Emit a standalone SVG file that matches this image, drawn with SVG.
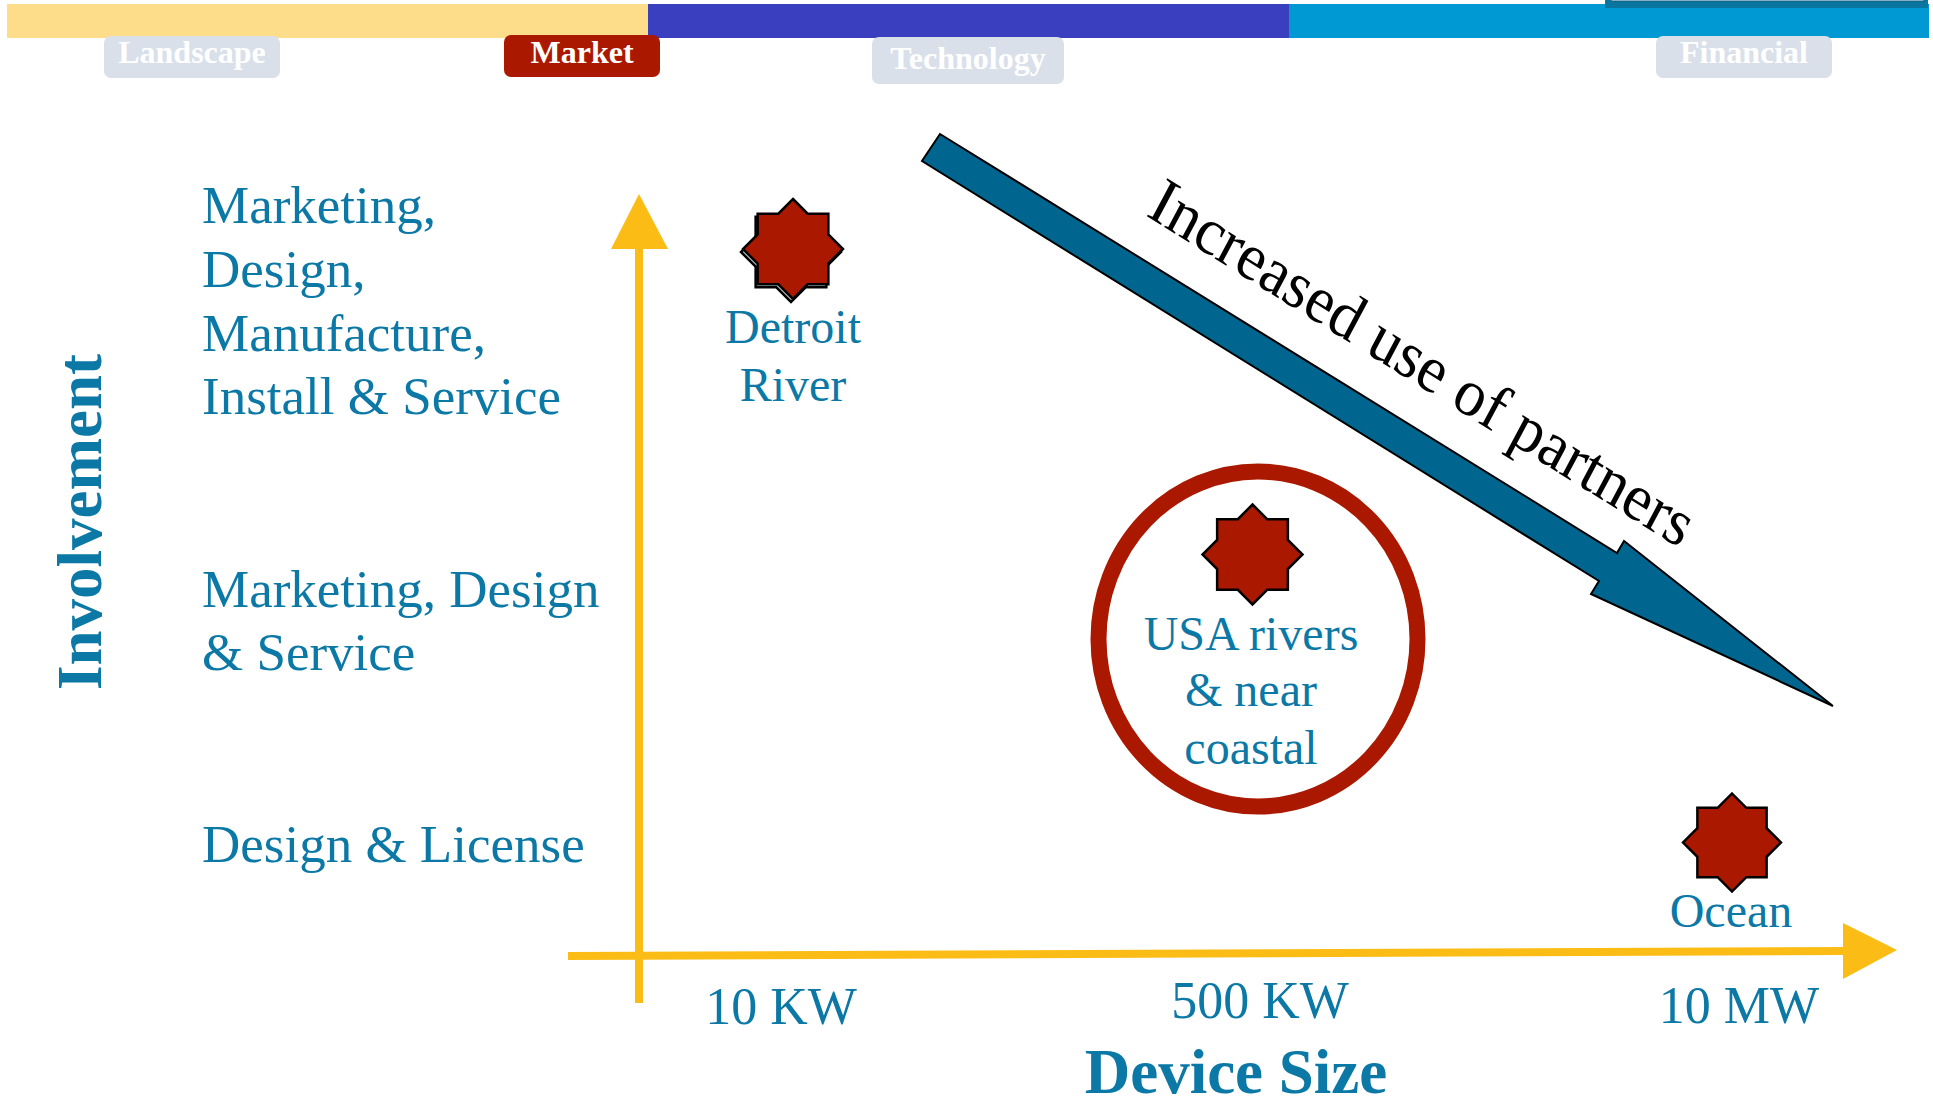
<svg xmlns="http://www.w3.org/2000/svg" xmlns:xlink="http://www.w3.org/1999/xlink" width="1933" height="1105" viewBox="0 0 1933 1105">
  <style>
    .tab-text { font-family: "Liberation Serif", "Times New Roman", serif; font-weight: bold; font-size: 32px; fill: #ffffff; text-anchor: middle; }
    .lbl { font-family: "Liberation Serif", "Times New Roman", serif; font-size: 53px; fill: #0b78a6; }
    .site { font-family: "Liberation Serif", "Times New Roman", serif; font-size: 48px; fill: #0b78a6; text-anchor: middle; }
    .tick { font-family: "Liberation Serif", "Times New Roman", serif; font-size: 52px; fill: #0b78a6; text-anchor: middle; }
    .axis-title { font-family: "Liberation Serif", "Times New Roman", serif; font-weight: bold; font-size: 63px; fill: #0b78a6; }
    .axis { stroke: #fbbc15; stroke-width: 8; fill: none; }
    .axis-head { fill: #fbbc15; }
    .star { fill: #aa1800; stroke: #000000; stroke-width: 2.5; stroke-linejoin: miter; }
  </style>
  <defs>
    <!-- eight-point star (two overlapping squares), radius 50 -->
    <polygon id="star8" points="0,-50 14.64,-35.36 35.36,-35.36 35.36,-14.64 50,0 35.36,14.64 35.36,35.36 14.64,35.36 0,50 -14.64,35.36 -35.36,35.36 -35.36,14.64 -50,0 -35.36,-14.64 -35.36,-35.36 -14.64,-35.36"/>
  </defs>

  <rect width="1933" height="1105" fill="#ffffff"/>

  <!-- section bar -->
  <g id="section-bar">
    <rect x="7" y="4" width="641" height="34" fill="#fddd8a"/>
    <rect x="648" y="4" width="641" height="34" fill="#3a3fbf"/>
    <rect x="1289" y="4" width="640" height="34" fill="#0099d3"/>
    <rect x="1605" y="-4" width="323" height="12" fill="#0a76a0"/>
    <rect x="1611" y="-4" width="313" height="5" fill="#ffffff" stroke="#0a5f82" stroke-width="1"/>
  </g>

  <g id="tab-landscape">
    <rect x="104" y="36" width="176" height="42" rx="7" fill="#d9e0ea"/>
    <text class="tab-text" x="192" y="63">Landscape</text>
  </g>
  <g id="tab-market">
    <rect x="504" y="35" width="156" height="42" rx="7" fill="#aa1800"/>
    <text class="tab-text" x="582" y="63">Market</text>
  </g>
  <g id="tab-technology">
    <rect x="872" y="37" width="192" height="47" rx="7" fill="#d9e0ea"/>
    <text class="tab-text" x="968" y="69">Technology</text>
  </g>
  <g id="tab-financial">
    <rect x="1656" y="36" width="176" height="42" rx="7" fill="#d9e0ea"/>
    <text class="tab-text" x="1744" y="63">Financial</text>
  </g>

  <!-- axes -->
  <g id="connectors">
    <line class="axis" x1="639" y1="245" x2="639" y2="1003"/>
    <polygon class="axis-head" points="639,194 668,249 611,249"/>
    <line class="axis" x1="568" y1="956" x2="1846" y2="951"/>
    <polygon class="axis-head" points="1843,923 1897,950 1843,979"/>
  </g>

  <!-- axis titles -->
  <g id="axis-y-title">
    <text class="axis-title" transform="translate(101,522) rotate(-90)" text-anchor="middle">Involvement</text>
  </g>
  <g id="axis-x-title">
    <text class="axis-title" x="1236" y="1093" text-anchor="middle" font-size="62">Device Size</text>
  </g>

  <!-- involvement levels -->
  <g id="level-full">
    <text class="lbl" x="202" y="223">Marketing,</text>
    <text class="lbl" x="202" y="287">Design,</text>
    <text class="lbl" x="202" y="351">Manufacture,</text>
    <text class="lbl" x="202" y="414">Install &amp; Service</text>
  </g>
  <g id="level-mid">
    <text class="lbl" x="202" y="607">Marketing, Design</text>
    <text class="lbl" x="202" y="670">&amp; Service</text>
  </g>
  <g id="level-low">
    <text class="lbl" x="202" y="862">Design &amp; License</text>
  </g>

  <!-- device sizes -->
  <g id="size-10kw"><text class="tick" x="781" y="1024">10 KW</text></g>
  <g id="size-500kw"><text class="tick" x="1260" y="1018">500 KW</text></g>
  <g id="size-10mw"><text class="tick" x="1739" y="1023">10 MW</text></g>

  <!-- trend arrow -->
  <g id="partners-arrow">
    <polygon points="940,134 1617,553 1624,541 1833,706 1591,594 1599,581 922,161" fill="#006690" stroke="#000000" stroke-width="2" stroke-linejoin="miter"/>
    <text transform="translate(1145,215) scale(1,1.08) rotate(30)" font-family="'Liberation Serif', 'Times New Roman', serif" font-size="62" fill="#000000">Increased use of partners</text>
  </g>

  <!-- sites -->
  <g id="site-detroit">
    <use xlink:href="#star8" href="#star8" transform="translate(791,252)" fill="#c4d2d9" stroke="#000000" stroke-width="2.5"/>
    <use xlink:href="#star8" href="#star8" class="star" transform="translate(793,249)"/>
    <text class="site" x="793" y="343">Detroit</text>
    <text class="site" x="793" y="401">River</text>
  </g>

  <g id="site-usa">
    <ellipse cx="1258" cy="639" rx="159.5" ry="167.5" fill="none" stroke="#aa1800" stroke-width="16"/>
    <use xlink:href="#star8" href="#star8" class="star" transform="translate(1252.5,554.5)"/>
    <text class="site" x="1251" y="650">USA rivers</text>
    <text class="site" x="1251" y="706">&amp; near</text>
    <text class="site" x="1251" y="764">coastal</text>
  </g>

  <g id="site-ocean">
    <use xlink:href="#star8" href="#star8" class="star" transform="translate(1732,842.5) scale(0.98)"/>
    <text class="site" x="1731" y="927">Ocean</text>
  </g>
</svg>
